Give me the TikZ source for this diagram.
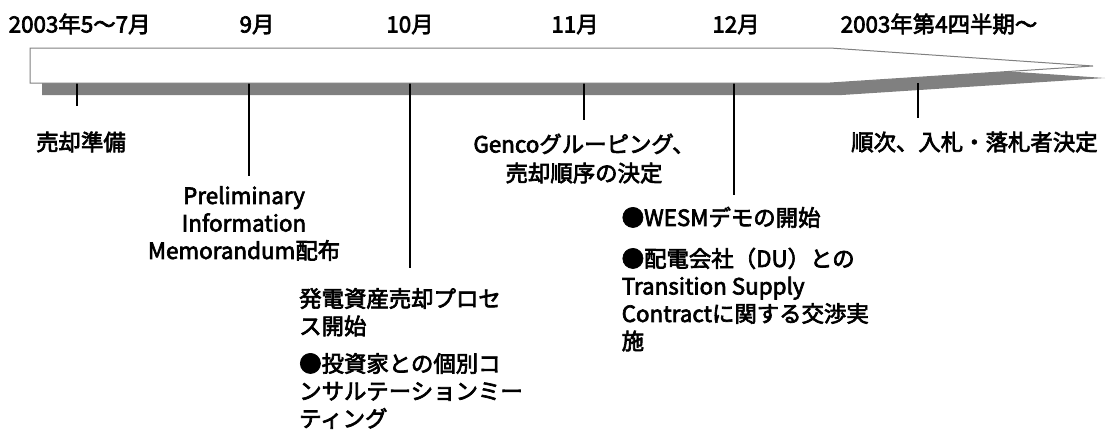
\documentclass[tikz,border=0pt]{standalone}
\usepackage{fontspec}
\setmainfont{Noto Sans CJK JP}
\newfontfamily\lblfont{Noto Sans CJK JP}[FakeBold=3]
\definecolor{shadowgray}{RGB}{128,128,128}
\definecolor{edgegray}{RGB}{128,128,128}
\begin{document}
\begin{tikzpicture}[x=1pt,y=-1pt,
  lbl/.style={inner sep=0pt, font=\fontsize{22.4}{27.5}\selectfont\lblfont},
  para/.style={lbl, align=left, anchor=north west},
  cpara/.style={lbl, align=center, anchor=north},
  tickline/.style={line width=1.5pt, black},
]
\useasboundingbox (0,0) rectangle (1107,432);
% shadow of the timeline arrow
\fill[shadowgray] (42,60) -- (842,60) -- (1105,78) -- (842,95) -- (42,95) -- cycle;
% tick coordinates
\coordinate (t1a) at (77,83);  \coordinate (t1b) at (77,106);
\coordinate (t2a) at (249,83); \coordinate (t2b) at (249,176);
\coordinate (t3a) at (410,83); \coordinate (t3b) at (410,268);
\coordinate (t4a) at (584,83); \coordinate (t4b) at (584,120);
\coordinate (t5a) at (734,83); \coordinate (t5b) at (734,195);
\coordinate (t6a) at (918,83); \coordinate (t6b) at (918,118);
\foreach \i in {1,...,6} { \draw[tickline] (t\i a) -- (t\i b); }
% timeline arrow
\draw[draw=edgegray, fill=white, line width=1pt] (30,48) -- (830,48) -- (1093,66) -- (830,83) -- (30,83) -- cycle;
% month labels
\node[lbl, anchor=base west] (m1) at (8.5,32.5) {2003年5～7月};
\node[lbl, anchor=base] (m2) at (257,32.5) {9月};
\node[lbl, anchor=base] (m3) at (410,32.5) {10月};
\node[lbl, anchor=base] (m4) at (575,32.5) {11月};
\node[lbl, anchor=base] (m5) at (736,32.5) {12月};
\node[lbl, anchor=base west] (m6) at (840.5,32.5) {2003年第4四半期～};
% event labels
\node[lbl, anchor=base west] (e1) at (36,150.5) {売却準備};
\node[cpara] (e2) at (244,184.5) {\strut Preliminary\\Information\\Memorandum配布};
\node[para] (e3a) at (299,287.5) {\strut 発電資産売却プロセ\\ス開始};
\node[para] (e3b) at (299,352.5) {\strut ●投資家との個別コ\\ンサルテーションミー\\ティング};
\node[cpara, font=\fontsize{22.4}{29}\selectfont\lblfont] (e4) at (584,132) {\strut Gencoグルーピング、\\売却順序の決定};
\node[para] (e5a) at (621.5,206.5) {\strut ●WESMデモの開始};
\node[para] (e5b) at (621.5,247.5) {\strut ●配電会社（DU）との\\Transition Supply\\Contractに関する交渉実\\施};
\node[lbl, anchor=base west] (e6) at (851,150.5) {順次、入札・落札者決定};
\end{tikzpicture}
\end{document}
